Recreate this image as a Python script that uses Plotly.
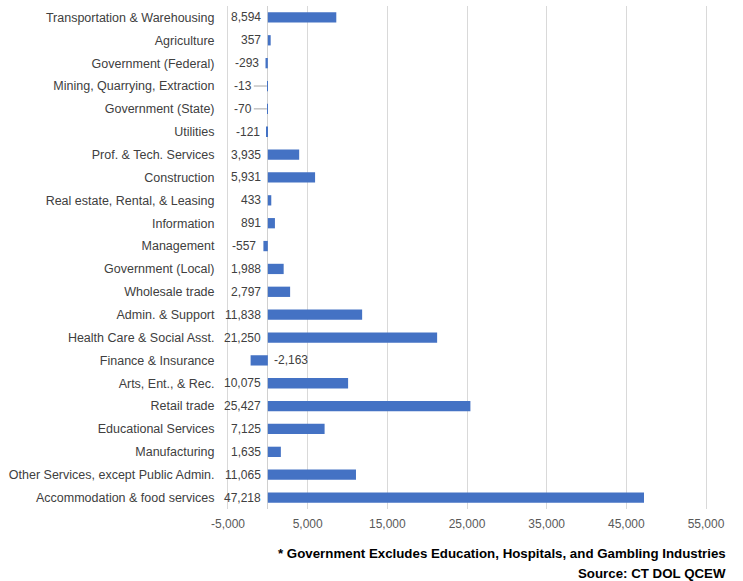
import plotly.graph_objects as go

# Net job change by industry, listed top to bottom as displayed
industries = [
    "Transportation & Warehousing",
    "Agriculture",
    "Government (Federal)",
    "Mining, Quarrying, Extraction",
    "Government (State)",
    "Utilities",
    "Prof. & Tech. Services",
    "Construction",
    "Real estate, Rental, & Leasing",
    "Information",
    "Management",
    "Government (Local)",
    "Wholesale trade",
    "Admin. & Support",
    "Health Care & Social Asst.",
    "Finance & Insurance",
    "Arts, Ent., & Rec.",
    "Retail trade",
    "Educational Services",
    "Manufacturing",
    "Other Services, except Public Admin.",
    "Accommodation & food services",
]
job_change = [
    8594, 357, -293, -13, -70, -121, 3935, 5931, 433, 891, -557,
    1988, 2797, 11838, 21250, -2163, 10075, 25427, 7125, 1635, 11065, 47218,
]
x_ticks = [-5000, 5000, 15000, 25000, 35000, 45000, 55000]
footnotes = [
    "* Government Excludes Education, Hospitals, and Gambling Industries",
    "Source: CT DOL QCEW",
]

W, H = 743, 581
M_L, M_R, M_T, M_B = 228, 37, 6, 72
BAR = "#4472C4"
TXT = "#404040"
GRID = "#d9d9d9"
FONT = "Liberation Sans, Arial, sans-serif"

fig = go.Figure(
    go.Bar(
        x=job_change,
        y=industries,
        orientation="h",
        marker=dict(color=BAR, line=dict(width=0)),
        width=0.45,
        hoverinfo="x+y",
    )
)

# value labels beside the axis
val_font = dict(family=FONT, size=12, color=TXT)
for name, v in zip(industries, job_change):
    label = f"{v:,}"
    if abs(v) < 100:
        # tiny values get a short leader line back to the axis
        fig.add_annotation(
            x=0, y=name, text=label, showarrow=True, arrowhead=0,
            arrowwidth=1, arrowcolor="#a6a6a6", ax=-14, ay=0,
            standoff=1, xanchor="right", yanchor="middle", font=val_font,
        )
    elif v < -1000:
        fig.add_annotation(
            x=0, y=name, text=label, showarrow=False, xanchor="left",
            xshift=4, yanchor="middle", font=val_font,
        )
    else:
        fig.add_annotation(
            x=min(v, 0), y=name, text=label, showarrow=False,
            xanchor="right", xshift=-5, yanchor="middle", font=val_font,
        )

plot_w = W - M_L - M_R
plot_h = H - M_T - M_B
for i, line in enumerate(footnotes):
    fig.add_annotation(
        xref="paper", yref="paper",
        x=(728 - M_L) / plot_w,
        y=-(553 + 20 * i - (H - M_B)) / plot_h,
        text=f"<b>{line}</b>", showarrow=False,
        xanchor="right", yanchor="middle",
        font=dict(family=FONT, size=13.3, color="#000000"),
    )

fig.update_layout(
    width=W, height=H,
    margin=dict(l=M_L, r=M_R, t=M_T, b=M_B, autoexpand=False),
    paper_bgcolor="white", plot_bgcolor="white",
    showlegend=False,
    font=dict(family=FONT, size=12, color=TXT),
    xaxis=dict(
        range=[-5000, 55000], tickvals=x_ticks,
        ticktext=[f"{t:,}" for t in x_ticks],
        showgrid=True, gridcolor=GRID, gridwidth=1,
        zeroline=True, zerolinecolor="#d0d0d0", zerolinewidth=1,
        showline=False, ticks="", ticklabelstandoff=6,
        tickfont=dict(family=FONT, size=12, color="#595959"),
        fixedrange=True,
    ),
    yaxis=dict(
        autorange="reversed", showgrid=False, zeroline=False,
        showline=True, mirror=True, linecolor=GRID, linewidth=1,
        ticks="", ticklabelstandoff=10,
        tickfont=dict(family=FONT, size=12.5, color=TXT),
        fixedrange=True,
    ),
)

fig.write_html("out.html")
